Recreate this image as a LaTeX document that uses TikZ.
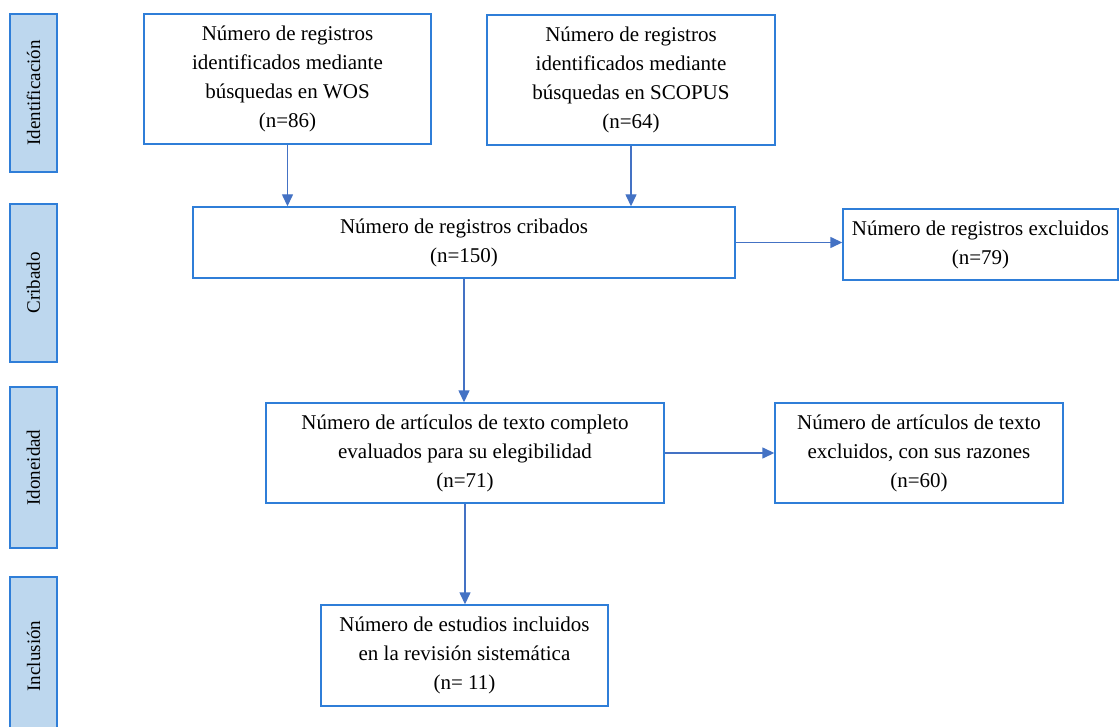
\documentclass[tikz,border=0pt]{standalone}
\usepackage{fontspec}
\setmainfont{Liberation Serif}
\usetikzlibrary{arrows.meta, positioning}
\definecolor{boxblue}{HTML}{2F7ED8}
\definecolor{arrblue}{HTML}{4472C4}
\definecolor{barfill}{HTML}{BDD7EE}
\begin{document}
\begin{tikzpicture}[
    x=1pt, y=-1pt,
    n/.style={rectangle, draw=boxblue, line width=1.4pt, fill=white, align=center, inner sep=2pt, font=\fontsize{21}{29}\selectfont},
    s/.style={rectangle, draw=boxblue, line width=1.4pt, fill=barfill, rotate=90, minimum height=47pt, inner sep=0pt, font=\fontsize{19}{22}\selectfont},
    a/.style={-{Triangle[length=12pt, width=11pt]}, line width=1.4pt, arrblue},
]
\useasboundingbox (0,0) rectangle (1119,727);
% fases
\node[s, minimum width=158pt] (fid) at (33.5,93) {Identificación};
\node[s, minimum width=158pt] (fcr) at (33.5,283) {Cribado};
\node[s, minimum width=161pt] (fio) at (33.5,467.5) {Idoneidad};
\node[s, minimum width=158pt] (fin) at (33.5,656) {Inclusión};
% cajas
\node[n, minimum width=287pt, minimum height=130pt] (wos) at (287.5,79) {Número de registros\\identificados mediante\\búsquedas en WOS\\(n=86)};
\node[n, minimum width=288pt, minimum height=130pt] (sco) at (631,80) {Número de registros\\identificados mediante\\búsquedas en SCOPUS\\(n=64)};
\node[n, minimum width=542pt, minimum height=71pt] (crib) at (464,242.5) {Número de registros cribados\\(n=150)};
\node[n, minimum width=275pt, minimum height=71pt] (exc) at (980.5,244.5) {Número de registros excluidos\\(n=79)};
\node[n, minimum width=398pt, minimum height=100pt] (eleg) at (465,453) {Número de artículos de texto completo\\evaluados para su elegibilidad\\(n=71)};
\node[n, minimum width=288pt, minimum height=100pt] (excart) at (919,453) {Número de artículos de texto\\excluidos, con sus razones\\(n=60)};
\node[n, minimum width=287pt, minimum height=101pt] (incl) at (464.5,655.5) {Número de estudios incluidos\\en la revisión sistemática\\(n= 11)};
% flechas
\draw[a] (wos.south) -- (wos.south |- crib.north);
\draw[a] (sco.south) -- (sco.south |- crib.north);
\draw[a] (crib.east) -- (crib.east -| exc.west);
\draw[a] (crib.south) -- (crib.south |- eleg.north);
\draw[a] (eleg.east) -- (excart.west);
\draw[a] (eleg.south) -- (eleg.south |- incl.north);
\end{tikzpicture}
\end{document}
